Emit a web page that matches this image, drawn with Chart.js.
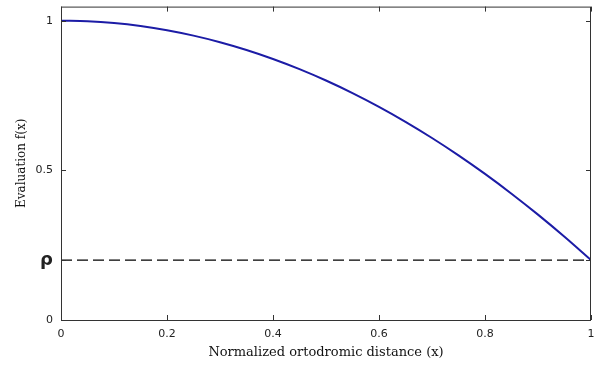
<!DOCTYPE html>
<html>
<head>
<meta charset="utf-8">
<script src="https://cdn.jsdelivr.net/npm/chart.js@4/dist/chart.umd.min.js"></script>
<style>
  html, body { margin: 0; padding: 0; background: #fff; }
  #wrap { width: 603px; height: 368px; }
</style>
</head>
<body>
<div id="wrap"><canvas id="chart" width="603" height="368"></canvas></div>
<script>
// values
const xVals = [0, 0.05, 0.1, 0.15, 0.2, 0.25, 0.3, 0.35, 0.4, 0.45, 0.5,
  0.55, 0.6, 0.65, 0.7, 0.75, 0.8, 0.85, 0.9, 0.95, 1];
const fVals = [1.0, 0.998, 0.992, 0.982, 0.968, 0.95, 0.928, 0.902, 0.872, 0.838, 0.8,
  0.758, 0.712, 0.662, 0.608, 0.55, 0.488, 0.422, 0.352, 0.278, 0.2];
const rho = 0.2;
const xTicks = [0, 0.2, 0.4, 0.6, 0.8, 1];
const yTicks = [0, rho, 0.5, 1];
const yTickLabels = ["0", "ρ", "0.5", "1"];

const curve = xVals.map((x, i) => ({ x: x, y: fVals[i] }));
const rhoLine = [{ x: 0, y: rho }, { x: 1, y: rho }];

// box around plot plus inward tick marks (MATLAB look)
const boxTicks = {
  id: "boxTicks",
  afterDatasetsDraw(chart) {
    const { ctx, chartArea: a, scales } = chart;
    ctx.save();
    ctx.strokeStyle = "#333";
    ctx.lineWidth = 1;
    ctx.strokeRect(a.left + 0.5, a.top + 0.5, a.right - a.left - 1, a.bottom - a.top);
    ctx.beginPath();
    xTicks.forEach((v) => {
      const px = Math.round(scales.x.getPixelForValue(v)) + 0.5;
      ctx.moveTo(px, a.bottom); ctx.lineTo(px, a.bottom - 5);
      ctx.moveTo(px, a.top); ctx.lineTo(px, a.top + 5);
    });
    yTicks.forEach((v) => {
      const py = Math.round(scales.y.getPixelForValue(v)) + 0.5;
      ctx.moveTo(a.left, py); ctx.lineTo(a.left + 5, py);
      ctx.moveTo(a.right, py); ctx.lineTo(a.right - 5, py);
    });
    ctx.stroke();
    ctx.restore();
  }
};

new Chart(document.getElementById("chart").getContext("2d"), {
  type: "scatter",
  data: {
    datasets: [
      {
        data: curve,
        showLine: true,
        borderColor: "#1c1ca6",
        borderWidth: 2,
        pointRadius: 0,
        tension: 0.4,
        cubicInterpolationMode: "monotone"
      },
      {
        data: rhoLine,
        showLine: true,
        borderColor: "#000",
        borderWidth: 1.4,
        borderDash: [11, 5],
        pointRadius: 0
      }
    ]
  },
  options: {
    responsive: false,
    animation: false,
    layout: { padding: { top: 0, right: 12, left: 0, bottom: 0 } },
    plugins: { legend: { display: false }, tooltip: { enabled: false } },
    scales: {
      x: {
        type: "linear",
        min: 0,
        max: 1,
        afterBuildTicks: (s) => { s.ticks = xTicks.map((v) => ({ value: v })); },
        afterFit: (s) => { s.height = 48; },
        grid: { display: false },
        border: { display: false },
        ticks: {
          color: "#222",
          font: { family: "DejaVu Sans", size: 11 },
          padding: 0,
          maxRotation: 0,
          callback: (v) => String(v)
        },
        title: {
          display: true,
          text: "Normalized ortodromic distance (x)",
          color: "#111",
          font: { family: "DejaVu Serif", size: 13 },
          padding: { top: 0, bottom: 8 }
        }
      },
      y: {
        type: "linear",
        min: 0,
        max: 1.047,
        afterBuildTicks: (s) => { s.ticks = yTicks.map((v) => ({ value: v })); },
        afterFit: (s) => { s.width = 61; },
        grid: { display: false },
        border: { display: false },
        ticks: {
          color: "#222",
          padding: 0,
          font: (c) => c.tick && c.tick.value === rho
            ? { family: "DejaVu Sans", size: 18, weight: "bold" }
            : { family: "DejaVu Sans", size: 11 },
          callback: (v) => yTickLabels[yTicks.indexOf(v)]
        },
        title: {
          display: true,
          text: "Evaluation f(x)",
          color: "#111",
          font: { family: "DejaVu Serif", size: 12 },
          padding: { top: 15, bottom: 0 }
        }
      }
    }
  },
  plugins: [boxTicks]
});
</script>
</body>
</html>
